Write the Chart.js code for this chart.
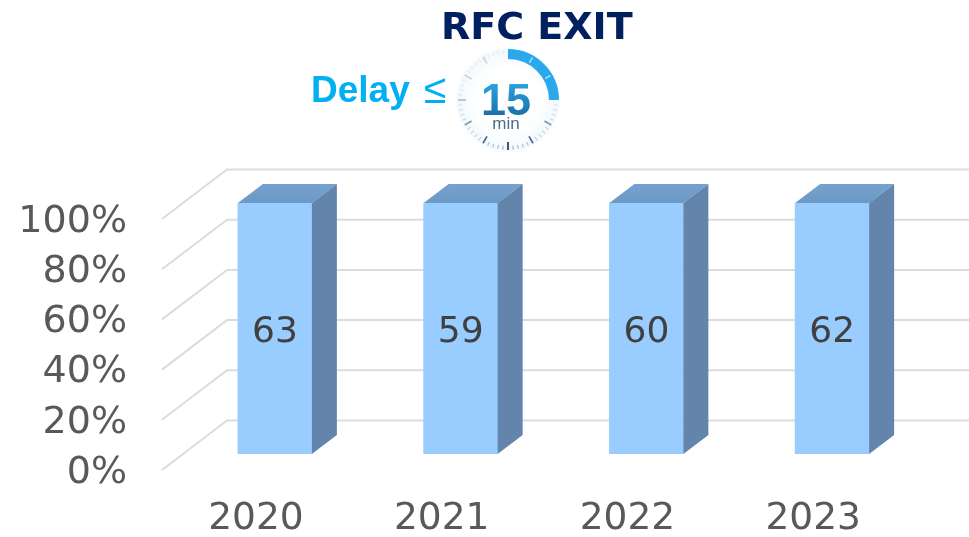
<!DOCTYPE html>
<html>
<head>
<meta charset="utf-8">
<style>html,body{margin:0;padding:0;background:#fff;overflow:hidden}canvas{display:block}</style>
<script src="https://cdn.jsdelivr.net/npm/chart.js@4"></script>
</head>
<body>
<canvas id="c" width="969" height="537"></canvas>
<script>
const categories = ["2020", "2021", "2022", "2023"];
const barShares = [100, 100, 100, 100];
const barLabels = [63, 59, 60, 62];
const yTicks = [0, 20, 40, 60, 80, 100];
const titleText = "RFC EXIT";
const delayText = "Delay";
const delaySign = "≤";
const iconNumber = "15";
const iconUnit = "min";

const DEPTH_X = 25, DEPTH_Y = 19;

const wallGrid = {
  id: "wallGrid",
  beforeDatasetsDraw(chart) {
    const { ctx, scales: { y } } = chart;
    ctx.save();
    ctx.strokeStyle = "#dcdcdc";
    ctx.lineWidth = 2;
    yTicks.forEach(v => {
      const py = y.getPixelForValue(v);
      ctx.beginPath();
      ctx.moveTo(162, py + 16);
      ctx.lineTo(227, py - 33.5);
      ctx.lineTo(969, py - 33.5);
      ctx.stroke();
    });
    ctx.restore();
  }
};

const bar3d = {
  id: "bar3d",
  afterDatasetsDraw(chart) {
    const { ctx } = chart;
    const meta = chart.getDatasetMeta(0);
    ctx.save();
    meta.data.forEach((el, i) => {
      const { x, y, base, width } = el.getProps(["x", "y", "base", "width"], true);
      const l = x - width / 2, r = x + width / 2;
      const g = ctx.createLinearGradient(0, y - DEPTH_Y, 0, y);
      g.addColorStop(0, "#74a2d0");
      g.addColorStop(1, "#6d98c4");
      ctx.fillStyle = g;
      ctx.beginPath();
      ctx.moveTo(l, y);
      ctx.lineTo(r, y);
      ctx.lineTo(r + DEPTH_X, y - DEPTH_Y);
      ctx.lineTo(l + DEPTH_X, y - DEPTH_Y);
      ctx.closePath();
      ctx.fill();
      ctx.fillStyle = "#6384ab";
      ctx.beginPath();
      ctx.moveTo(r, y);
      ctx.lineTo(r + DEPTH_X, y - DEPTH_Y);
      ctx.lineTo(r + DEPTH_X, base - DEPTH_Y);
      ctx.lineTo(r, base);
      ctx.closePath();
      ctx.fill();
      ctx.fillStyle = "#404040";
      ctx.font = "36px 'DejaVu Sans'";
      ctx.textAlign = "center";
      ctx.textBaseline = "middle";
      ctx.fillText(String(barLabels[i]), x, (y + base) / 2 + 4);
    });
    ctx.restore();
  }
};

const header = {
  id: "header",
  afterDraw(chart) {
    const { ctx } = chart;
    ctx.save();
    ctx.textBaseline = "alphabetic";
    ctx.textAlign = "left";
    ctx.fillStyle = "#002060";
    ctx.font = "bold 38px 'DejaVu Sans'";
    ctx.fillText(titleText, 441, 39);
    ctx.fillStyle = "#00b0f0";
    ctx.font = "bold 37px 'Liberation Sans'";
    ctx.fillText(delayText, 311, 102);
    ctx.font = "41px 'Liberation Sans'";
    ctx.fillText(delaySign, 424, 103);

    const cx = 508, cy = 100;
    const halo = ctx.createRadialGradient(cx, cy, 30, cx, cy, 54);
    halo.addColorStop(0, "rgba(235,245,252,0)");
    halo.addColorStop(0.8, "rgba(225,240,250,0.45)");
    halo.addColorStop(1, "rgba(235,245,252,0)");
    ctx.fillStyle = halo;
    ctx.beginPath();
    ctx.arc(cx, cy, 54, 0, Math.PI * 2);
    ctx.fill();

    for (let i = 16; i < 60; i++) {
      const a = -Math.PI / 2 + i * Math.PI / 30;
      const major = i % 5 === 0;
      const angleFromBottom = Math.abs(i - 30);
      const strength = Math.max(0.2, 1 - angleFromBottom / 22);
      const r1 = 50, r2 = major ? 42 : 46;
      ctx.strokeStyle = major ? `rgba(40,70,110,${strength})` : `rgba(120,150,180,${strength * 0.8})`;
      ctx.lineWidth = major ? 1.8 : 1;
      ctx.beginPath();
      ctx.moveTo(cx + Math.cos(a) * r1, cy + Math.sin(a) * r1);
      ctx.lineTo(cx + Math.cos(a) * r2, cy + Math.sin(a) * r2);
      ctx.stroke();
    }
    ctx.strokeStyle = "#2aa8ea";
    ctx.lineWidth = 10;
    ctx.beginPath();
    ctx.arc(cx, cy, 46, -Math.PI / 2, 0);
    ctx.stroke();
    ctx.strokeStyle = "rgba(255,255,255,0.55)";
    ctx.lineWidth = 1.6;
    [1, 2].forEach(k => {
      const a = -Math.PI / 2 + k * Math.PI / 6;
      ctx.beginPath();
      ctx.moveTo(cx + Math.cos(a) * 49, cy + Math.sin(a) * 49);
      ctx.lineTo(cx + Math.cos(a) * 43, cy + Math.sin(a) * 43);
      ctx.stroke();
    });
    ctx.textAlign = "center";
    const tg = ctx.createLinearGradient(0, 82, 0, 116);
    tg.addColorStop(0, "#2aa5e2");
    tg.addColorStop(1, "#1c6fa8");
    ctx.fillStyle = tg;
    ctx.font = "bold 45px 'Liberation Sans'";
    ctx.fillText(iconNumber, 506, 115);
    ctx.fillStyle = "#4d6c88";
    ctx.font = "17px 'Liberation Sans'";
    ctx.fillText(iconUnit, 506, 129);
    ctx.restore();
  }
};

new Chart(document.getElementById("c"), {
  type: "bar",
  data: {
    labels: categories,
    datasets: [{
      data: barShares,
      backgroundColor: "#99ccff",
      barThickness: 74,
      borderWidth: 0
    }]
  },
  options: {
    responsive: false,
    animation: false,
    devicePixelRatio: 1,
    layout: { padding: { top: 203, right: 44, bottom: 0, left: 0 } },
    plugins: { legend: { display: false }, title: { display: false }, tooltip: { enabled: false } },
    scales: {
      x: {
        grid: { display: false, drawTicks: false },
        border: { display: false },
        afterFit(s) { s.height = 83; },
        ticks: {
          color: "#595959",
          font: { family: "'DejaVu Sans'", size: 37.5 },
          autoSkip: false,
          maxRotation: 0,
          padding: 43,
          labelOffset: -19
        }
      },
      y: {
        min: 0,
        max: 100,
        afterFit(s) { s.width = 182; },
        afterBuildTicks(s) { s.ticks = yTicks.map(value => ({ value })); },
        grid: { display: false, drawTicks: false },
        border: { display: false },
        ticks: {
          color: "#595959",
          font: { family: "'DejaVu Sans'", size: 38 },
          padding: 55,
          labelOffset: 19,
          callback: v => v + "%"
        }
      }
    }
  },
  plugins: [wallGrid, bar3d, header]
});
</script>
</body>
</html>
